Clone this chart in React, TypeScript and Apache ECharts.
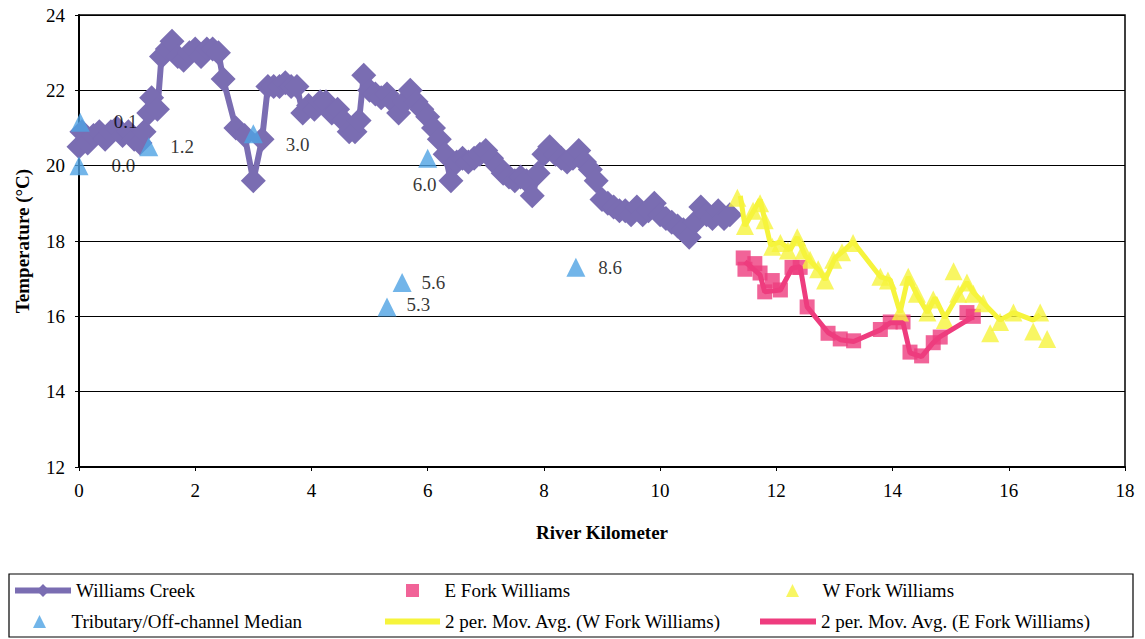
import React, { useEffect, useRef } from "react";
import * as echarts from "echarts";

// Williams Creek main-stem temperatures (river km, °C)
const wcKm = [
  0.0, 0.05, 0.15, 0.25, 0.35, 0.45, 0.55, 0.65, 0.75, 0.85, 0.95, 1.05, 1.12, 1.2, 1.25, 1.35,
  1.42, 1.52, 1.6, 1.7, 1.8, 1.9, 2.0, 2.1, 2.2, 2.3, 2.4, 2.48, 2.7, 2.85, 3.0, 3.15, 3.25,
  3.35, 3.45, 3.55, 3.65, 3.75, 3.85, 3.95, 4.05, 4.15, 4.25, 4.35, 4.45, 4.55, 4.65, 4.75,
  4.82, 4.9, 5.0, 5.1, 5.2, 5.3, 5.4, 5.5, 5.6, 5.7, 5.8, 5.9, 6.0, 6.1, 6.2, 6.3, 6.4, 6.5,
  6.6, 6.7, 6.8, 6.9, 7.0, 7.1, 7.2, 7.3, 7.4, 7.5, 7.6, 7.7, 7.8, 7.9, 8.0, 8.1, 8.2, 8.3,
  8.4, 8.5, 8.6, 8.7, 8.8, 8.9, 9.0, 9.1, 9.2, 9.3, 9.4, 9.5, 9.6, 9.7, 9.8, 9.9, 10.0, 10.1,
  10.2, 10.3, 10.4, 10.5, 10.6, 10.7, 10.8, 10.9, 11.0, 11.1, 11.2,
];
const wcTemp = [
  20.5, 20.9, 20.6, 20.8, 20.9, 20.7, 20.9, 21.0, 20.8, 20.9, 20.7, 20.6, 20.9, 21.4, 21.8, 21.5,
  22.9, 23.1, 23.3, 22.9, 22.8, 23.0, 23.1, 22.9, 23.1, 23.1, 23.0, 22.3, 21.0, 20.8, 19.6, 20.7, 22.1,
  22.1, 22.1, 22.2, 22.1, 22.1, 21.4, 21.6, 21.5, 21.7, 21.7, 21.4, 21.5, 21.2, 20.9, 20.9,
  21.2, 22.4, 22.0, 21.9, 21.8, 21.9, 21.7, 21.4, 21.7, 22.0, 21.7, 21.5, 21.3, 21.0, 20.7, 20.3, 19.6, 20.1,
  20.2, 20.1, 20.2, 20.3, 20.4, 20.2, 20.0, 19.8, 19.7, 19.6, 19.7, 19.6, 19.2, 19.8, 20.3, 20.5, 20.3, 20.2,
  20.1, 20.2, 20.4, 20.1, 19.9, 19.6, 19.1, 19.0, 18.9, 18.8, 18.8, 18.7, 18.9, 18.7, 18.8, 19.0, 18.7, 18.6,
  18.5, 18.4, 18.3, 18.1, 18.5, 18.9, 18.7, 18.6, 18.8, 18.6, 18.7,
];

// Tributary / off-channel medians
const tribKm = [0.0, 0.02, 1.2, 3.0, 6.0, 5.3, 5.56, 8.55];
const tribTemp = [20.0, 21.15, 20.5, 20.85, 20.2, 16.25, 16.9, 17.3];
const tribNames = ["0.0", "0.1", "1.2", "3.0", "6.0", "5.3", "5.6", "8.6"];

// East Fork Williams
const efKm = [
  11.43, 11.46, 11.63, 11.72, 11.8, 11.93, 12.07, 12.27, 12.41, 12.53, 12.89, 13.1, 13.33, 13.79,
  13.96, 14.18, 14.3, 14.5, 14.7, 14.82, 15.28, 15.39,
];
const efTemp = [
  17.55, 17.25, 17.4, 17.15, 16.65, 16.95, 16.7, 17.3, 17.3, 16.25, 15.55, 15.4, 15.35, 15.65,
  15.85, 15.85, 15.05, 14.95, 15.3, 15.45, 16.1, 16.0,
];

// West Fork Williams
const wfKm = [
  11.33, 11.46, 11.6, 11.72, 11.8, 11.93, 12.07, 12.2, 12.36, 12.47, 12.58, 12.72, 12.84, 12.98,
  13.13, 13.32, 13.79, 13.92, 14.13, 14.27, 14.42, 14.6, 14.7, 14.9, 15.05, 15.13, 15.28, 15.39,
  15.56, 15.68, 15.85, 16.08, 16.42, 16.54, 16.66,
];
const wfTemp = [
  19.15, 18.4, 18.8, 19.0, 18.55, 17.85, 17.95, 17.75, 18.1, 17.75, 17.5, 17.25, 16.95, 17.5,
  17.7, 17.95, 17.05, 16.95, 16.1, 17.05, 16.6, 16.1, 16.45, 15.9, 17.2, 16.6, 16.9, 16.6,
  16.35, 15.55, 15.85, 16.1, 15.6, 16.1, 15.4,
];

// 2-period moving-average trend lines
const wfAvgKm = [
  11.38, 11.46, 11.72, 11.9, 12.07, 12.24, 12.36, 12.5, 12.75, 12.84, 13.01, 13.18, 13.32, 13.79,
  13.96, 14.13, 14.27, 14.42, 14.6, 14.73, 14.9, 15.13, 15.28, 15.39, 15.56, 15.85, 16.08, 16.42, 16.54,
];
const wfAvgTemp = [
  19.2, 18.4, 19.1, 17.9, 17.97, 17.77, 18.1, 17.6, 17.2, 16.97, 17.55, 17.77, 17.98, 17.05,
  16.97, 16.1, 17.05, 16.57, 16.1, 16.5, 15.96, 16.57, 16.9, 16.63, 16.36, 15.9, 16.1, 15.9, 16.04,
];
const efAvgKm = [
  11.46, 11.72, 11.8, 12.07, 12.27, 12.41, 12.53, 12.89, 13.1, 13.33, 13.79, 13.96, 14.18, 14.3,
  14.5, 14.7, 14.82, 15.39,
];
const efAvgTemp = [
  17.45, 17.1, 16.65, 16.7, 17.28, 17.32, 16.25, 15.57, 15.38, 15.33, 15.64, 15.83, 15.83, 15.03,
  14.93, 15.3, 15.46, 15.99,
];

const xTicks = { min: 0, max: 18, interval: 2 };
const yTicks = { min: 12, max: 24, interval: 2 };

const PURPLE = "#7a6db2";
const BLUE = "#4fa3e3";
const PINK = "#ee3c7e";
const YELLOW = "#f6f43c";
const FONT = "'Liberation Serif', 'Times New Roman', serif";

// legend glyphs that keep their proportions inside the legend box
const TRIANGLE_ICON = "path://M5,0L10,10L0,10Z";
const SQUARE_ICON = "path://M0,0L10,0L10,10L0,10Z";

const zip = (xs: number[], ys: number[]) => xs.map((x, i) => [x, ys[i]]);

// label placement for the tributary annotations
const tribLabelPlace: Record<string, { position: string; offset: [number, number] }> = {
  "0.0": { position: "right", offset: [18, 0] },
  "0.1": { position: "right", offset: [19, -1] },
  "1.2": { position: "right", offset: [7, 0] },
  "3.0": { position: "right", offset: [18, 11] },
  "6.0": { position: "bottom", offset: [-3, 2] },
  "5.3": { position: "right", offset: [5, -2] },
  "5.6": { position: "right", offset: [5, 0] },
  "8.6": { position: "right", offset: [8, 0] },
};

export default function App() {
  const ref = useRef<HTMLDivElement>(null);

  useEffect(() => {
    if (!ref.current) return;
    const chart = echarts.init(ref.current, undefined, { renderer: "svg" });

    const textStyle = { fontFamily: FONT, fontSize: 19, color: "#000" };

    const tribData = tribKm.map((x, i) => {
      const place = tribLabelPlace[tribNames[i]];
      return {
        value: [x, tribTemp[i]],
        name: tribNames[i],
        label: { show: true, position: place.position, offset: place.offset },
      };
    });

    const legendBase = {
      padding: 0,
      selectedMode: false,
      textStyle: { ...textStyle },
      itemGap: 0,
      symbolKeepAspect: true,
    };

    chart.setOption({
      animation: false,
      backgroundColor: "#fff",
      textStyle: { fontFamily: FONT },
      grid: {
        left: 79,
        right: 20,
        top: 15,
        bottom: 172,
        show: true,
        borderColor: "#000",
        borderWidth: 1.5,
        containLabel: false,
      },
      xAxis: {
        type: "value",
        ...xTicks,
        name: "River Kilometer",
        nameLocation: "middle",
        nameGap: 56,
        nameTextStyle: { ...textStyle, fontWeight: "bold" },
        axisLine: { show: true, lineStyle: { color: "#000", width: 2 } },
        axisTick: { show: true, length: 4, lineStyle: { color: "#000" } },
        axisLabel: { ...textStyle, margin: 14 },
        splitLine: { show: false },
      },
      yAxis: {
        type: "value",
        ...yTicks,
        name: "Temperature (°C)",
        nameLocation: "middle",
        nameGap: 47,
        nameRotate: 90,
        nameTextStyle: { ...textStyle, fontWeight: "bold" },
        axisLine: { show: true, lineStyle: { color: "#000", width: 2 } },
        axisTick: { show: true, length: 4, lineStyle: { color: "#000" } },
        axisLabel: { ...textStyle, margin: 14 },
        splitLine: { show: true, lineStyle: { color: "#000", width: 1 } },
      },
      legend: [
        {
          ...legendBase,
          data: ["Williams Creek"],
          left: 12,
          top: 581,
          itemWidth: 56,
          itemHeight: 16,
          lineStyle: { width: 6 },
        },
        {
          ...legendBase,
          data: [{ name: "Tributary/Off-channel Median", icon: TRIANGLE_ICON }],
          left: 33,
          top: 612,
          itemWidth: 54,
          itemHeight: 13,
        },
        {
          ...legendBase,
          data: [{ name: "E Fork Williams", icon: SQUARE_ICON }],
          left: 406,
          top: 581,
          itemWidth: 54,
          itemHeight: 13,
        },
        {
          ...legendBase,
          data: [{ name: "2 per. Mov. Avg. (W Fork Williams)", icon: "rect" }],
          left: 385,
          top: 612,
          itemWidth: 55,
          itemHeight: 6,
        },
        {
          ...legendBase,
          data: [{ name: "W Fork Williams", icon: TRIANGLE_ICON }],
          left: 786,
          top: 581,
          itemWidth: 50,
          itemHeight: 13,
        },
        {
          ...legendBase,
          data: [{ name: "2 per. Mov. Avg. (E Fork Williams)", icon: "rect" }],
          left: 760,
          top: 612,
          itemWidth: 56,
          itemHeight: 6,
        },
      ],
      graphic: [
        {
          type: "rect",
          shape: { x: 9, y: 574, width: 1124, height: 63 },
          style: { fill: "none", stroke: "#000", lineWidth: 1.2 },
          silent: true,
        },
      ],
      series: [
        {
          name: "Williams Creek",
          type: "line",
          data: zip(wcKm, wcTemp),
          symbol: "diamond",
          symbolSize: 25,
          showAllSymbol: true,
          lineStyle: { color: PURPLE, width: 6 },
          itemStyle: { color: PURPLE },
          z: 2,
        },
        {
          name: "Tributary/Off-channel Median",
          type: "scatter",
          data: tribData,
          symbol: "triangle",
          symbolSize: 19,
          itemStyle: { color: BLUE },
          label: {
            show: true,
            formatter: (p: any) => p.name,
            ...textStyle,
          },
          z: 3,
        },
        {
          name: "E Fork Williams",
          type: "scatter",
          data: zip(efKm, efTemp),
          symbol: "rect",
          symbolSize: 15,
          itemStyle: { color: PINK },
          z: 3,
        },
        {
          name: "W Fork Williams",
          type: "scatter",
          data: zip(wfKm, wfTemp),
          symbol: "triangle",
          symbolSize: 18,
          itemStyle: { color: YELLOW },
          z: 3,
        },
        {
          name: "2 per. Mov. Avg. (W Fork Williams)",
          type: "line",
          data: zip(wfAvgKm, wfAvgTemp),
          symbol: "none",
          lineStyle: { color: YELLOW, width: 5 },
          itemStyle: { color: YELLOW },
          z: 4,
        },
        {
          name: "2 per. Mov. Avg. (E Fork Williams)",
          type: "line",
          data: zip(efAvgKm, efAvgTemp),
          symbol: "none",
          lineStyle: { color: PINK, width: 5 },
          itemStyle: { color: PINK },
          z: 4,
        },
      ],
    });

    return () => chart.dispose();
  }, []);

  return (
    <div
      ref={ref}
      style={{ position: "absolute", left: 0, top: 0, width: 1145, height: 639, background: "#fff" }}
    />
  );
}
